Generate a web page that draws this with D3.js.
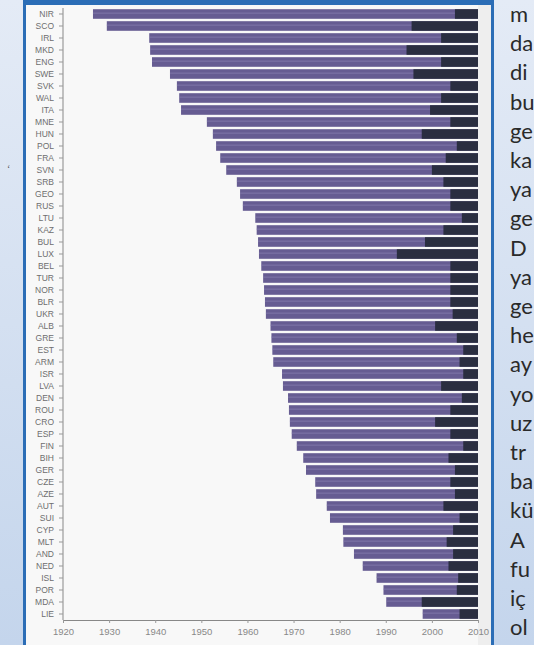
<!DOCTYPE html>
<html>
<head>
<meta charset="utf-8">
<script src="https://cdn.jsdelivr.net/npm/d3@7/dist/d3.min.js"></script>
<style>
  html, body { margin: 0; padding: 0; background: #dfe7f3; }
  svg { display: block; }
</style>
</head>
<body>
<svg id="chart" width="534" height="645"></svg>
<script>
const countries = ["NIR","SCO","IRL","MKD","ENG","SWE","SVK","WAL","ITA","MNE","HUN","POL","FRA","SVN","SRB","GEO","RUS","LTU","KAZ","BUL","LUX","BEL","TUR","NOR","BLR","UKR","ALB","GRE","EST","ARM","ISR","LVA","DEN","ROU","CRO","ESP","FIN","BIH","GER","CZE","AZE","AUT","SUI","CYP","MLT","AND","NED","ISL","POR","MDA","LIE"];
const startYears = [1926.5,1929.5,1938.7,1938.9,1939.3,1943.2,1944.7,1945.2,1945.6,1951.2,1952.5,1953.2,1954.1,1955.4,1957.7,1958.4,1959.0,1961.7,1962.0,1962.3,1962.5,1963.0,1963.4,1963.6,1963.8,1964.0,1965.0,1965.2,1965.4,1965.6,1967.5,1967.7,1968.8,1969.0,1969.2,1969.6,1970.7,1972.1,1972.7,1974.7,1974.9,1977.2,1977.9,1980.7,1980.8,1983.1,1985.0,1988.0,1989.5,1990.1,1998.0];
const darkFrom = [2005.0,1995.6,2002.0,1994.5,2002.0,1996.0,2004.0,2002.0,1999.6,2004.0,1997.8,2005.4,2003.0,2000.0,2002.5,2004.0,2004.0,2006.5,2002.5,1998.5,1992.4,2004.0,2004.0,2004.0,2004.0,2004.5,2000.7,2005.4,2006.8,2006.0,2006.8,2002.0,2006.5,2004.0,2000.7,2004.0,2006.8,2003.6,2005.0,2004.0,2005.0,2002.5,2006.0,2004.6,2003.2,2004.6,2003.6,2005.7,2005.4,1997.8,2006.0];
const endYear = 2010;
const xTicks = [1920,1930,1940,1950,1960,1970,1980,1990,2000,2010];
const sideWords = ["m","da","di","bu","ge","ka","ya","ge","D","ya","ge","he","ay","yo","uz","tr","ba","kü","A","fu","iç","ol"];

const svg = d3.select("#chart");
const W = 534, H = 645;

// background gradient
const defs = svg.append("defs");
const g1 = defs.append("linearGradient").attr("id","bgGrad").attr("x1",0).attr("y1",0).attr("x2",0).attr("y2",1);
g1.append("stop").attr("offset","0%").attr("stop-color","#e4ebf6");
g1.append("stop").attr("offset","100%").attr("stop-color","#c4d5ec");
svg.append("rect").attr("width",W).attr("height",H).attr("fill","url(#bgGrad)");

// panel
svg.append("rect").attr("x",25).attr("y",0).attr("width",468).attr("height",H).attr("fill","#f8f8f8");
svg.append("rect").attr("x",478).attr("y",4).attr("width",14).attr("height",H).attr("fill","#eeeeee");
svg.append("rect").attr("x",23).attr("y",0).attr("width",3).attr("height",H).attr("fill","#2b6db6");
svg.append("rect").attr("x",491).attr("y",0).attr("width",3).attr("height",H).attr("fill","#2b6db6");
svg.append("rect").attr("x",23).attr("y",0).attr("width",471).attr("height",5).attr("fill","#2b6db6");

// scales
const x = d3.scaleLinear().domain([1920,2010]).range([63,478]);
const y = d3.scaleBand().domain(countries).range([8,620]).paddingInner(0.2).paddingOuter(0.1);

const rows = countries.map((c,i)=>({c, s:startYears[i], d:darkFrom[i]}));

const bars = svg.append("g");
bars.selectAll("rect.main").data(rows).join("rect")
  .attr("class","main")
  .attr("x", d=>x(d.s)).attr("y", d=>y(d.c))
  .attr("width", d=>x(endYear)-x(d.s)).attr("height", y.bandwidth())
  .attr("fill","#665c92");
bars.selectAll("rect.hl").data(rows).join("rect")
  .attr("class","hl")
  .attr("x", d=>x(d.s)).attr("y", d=>y(d.c)+y.bandwidth()*0.35)
  .attr("width", d=>x(endYear)-x(d.s)).attr("height", 1.2)
  .attr("fill","#8c83b6").attr("opacity",0.55);
bars.selectAll("rect.dark").data(rows).join("rect")
  .attr("class","dark")
  .attr("x", d=>x(d.d)).attr("y", d=>y(d.c))
  .attr("width", d=>x(endYear)-x(d.d)).attr("height", y.bandwidth())
  .attr("fill","#2a2e40");

// axes
const yAxis = d3.axisLeft(y).tickSize(4).tickPadding(5);
const gy = svg.append("g").attr("transform","translate(63,0)").call(yAxis);
gy.select(".domain").attr("stroke","#888").attr("d","M0,8V620");
gy.selectAll(".tick line").attr("stroke","#999");
gy.selectAll("text").attr("fill","#6e6e6e").style("font-family","'Liberation Sans', Arial, sans-serif").style("font-size","8.5px");

const xAxis = d3.axisBottom(x).tickValues(xTicks).tickFormat(d3.format("d")).tickSize(3).tickPadding(5);
const gx = svg.append("g").attr("transform","translate(0,620)").call(xAxis);
gx.select(".domain").attr("stroke","#888");
gx.selectAll(".tick line").attr("stroke","#999");
gx.selectAll("text").attr("fill","#888").style("font-family","'Liberation Sans', Arial, sans-serif").style("font-size","9.5px");

// side text (clipped page text)
svg.append("g").selectAll("text").data(sideWords).join("text")
  .attr("x",510).attr("y",(d,i)=>22+i*29.2)
  .attr("fill","#2a2a2a")
  .style("font-family","Lato, 'Open Sans', sans-serif").style("font-size","22px")
  .text(d=>d);

svg.append("text").attr("x",7).attr("y",172).attr("fill","#555").style("font-size","10px").text("‘");
</script>
</body>
</html>
